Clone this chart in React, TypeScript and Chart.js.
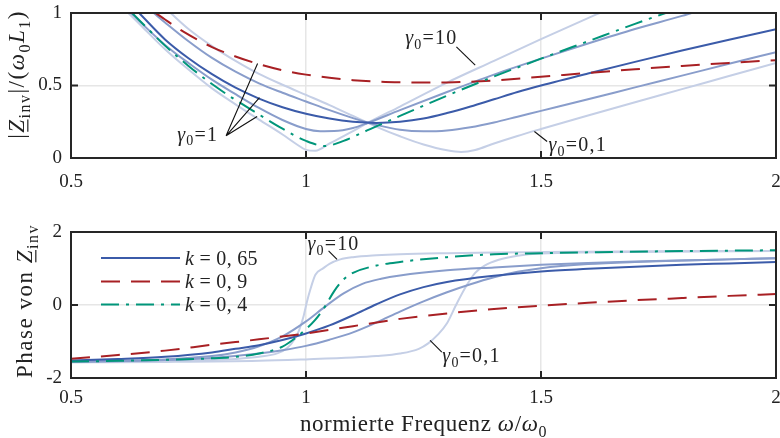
import React, { useEffect, useRef } from 'react';
import { Chart, registerables } from 'chart.js';

Chart.register(...registerables);

// ---------- |Z_inv| / (w0 L1)  (top panel) ----------
// k = 0,65 family (gamma0 = 0,1 / 0,3 / 1 / 3 / 10)
const magX_g01 = [0.712, 0.75, 0.8, 0.85, 0.9, 0.95, 1.0, 1.05, 1.1, 1.13, 1.15, 1.2, 1.25, 1.3, 1.33, 1.36, 1.4, 1.45, 1.5, 1.6, 1.7, 1.8, 1.9, 2.0];
const magY_g01 = [1.0, 0.89, 0.772, 0.67, 0.58, 0.505, 0.435, 0.365, 0.29, 0.245, 0.215, 0.15, 0.093, 0.053, 0.042, 0.055, 0.1, 0.152, 0.2, 0.293, 0.385, 0.475, 0.565, 0.655];

const magX_g03 = [0.676, 0.7, 0.75, 0.8, 0.85, 0.9, 0.95, 1.0, 1.05, 1.1, 1.13, 1.15, 1.2, 1.25, 1.3, 1.35, 1.4, 1.45, 1.5, 1.6, 1.7, 1.8, 1.9, 2.0];
const magY_g03 = [1.0, 0.935, 0.805, 0.69, 0.595, 0.515, 0.45, 0.39, 0.33, 0.275, 0.245, 0.228, 0.195, 0.184, 0.19, 0.212, 0.245, 0.285, 0.325, 0.405, 0.487, 0.568, 0.65, 0.73];

const magX_g1 = [0.645, 0.7, 0.75, 0.8, 0.85, 0.9, 0.95, 1.0, 1.05, 1.1, 1.15, 1.2, 1.25, 1.3, 1.35, 1.4, 1.45, 1.5, 1.6, 1.7, 1.8, 1.9, 2.0];
const magY_g1 = [1.0, 0.818, 0.688, 0.578, 0.485, 0.41, 0.35, 0.305, 0.272, 0.25, 0.242, 0.25, 0.272, 0.31, 0.355, 0.405, 0.455, 0.5, 0.583, 0.663, 0.741, 0.816, 0.888];

const magX_g3 = [0.628, 0.65, 0.7, 0.75, 0.8, 0.85, 0.9, 0.95, 1.0, 1.03, 1.06, 1.1, 1.13, 1.2, 1.3, 1.4, 1.5, 1.6, 1.7, 1.8, 1.82];
const magY_g3 = [1.0, 0.93, 0.78, 0.655, 0.54, 0.44, 0.345, 0.262, 0.2, 0.185, 0.186, 0.207, 0.24, 0.33, 0.455, 0.575, 0.685, 0.79, 0.89, 0.98, 1.0];

const magX_g10 = [0.622, 0.65, 0.7, 0.75, 0.8, 0.85, 0.9, 0.95, 0.98, 1.0, 1.02, 1.05, 1.1, 1.13, 1.2, 1.3, 1.4, 1.5, 1.6, 1.625];
const magY_g10 = [1.0, 0.91, 0.75, 0.61, 0.48, 0.37, 0.265, 0.162, 0.095, 0.056, 0.05, 0.1, 0.185, 0.24, 0.355, 0.52, 0.67, 0.82, 0.965, 1.0];

// k = 0,9 and k = 0,4 (gamma0 = 1)
const magX_k09 = [0.68, 0.7, 0.74, 0.8, 0.85, 0.9, 0.95, 1.0, 1.05, 1.1, 1.15, 1.2, 1.25, 1.3, 1.35, 1.4, 1.5, 1.6, 1.7, 1.8, 1.9, 2.0];
const magY_k09 = [1.0, 0.955, 0.87, 0.765, 0.7, 0.647, 0.605, 0.575, 0.553, 0.537, 0.527, 0.522, 0.52, 0.521, 0.526, 0.535, 0.56, 0.587, 0.612, 0.635, 0.656, 0.675];

const magX_k04 = [0.63, 0.65, 0.7, 0.75, 0.8, 0.85, 0.9, 0.95, 1.0, 1.04, 1.08, 1.13, 1.2, 1.3, 1.4, 1.5, 1.6, 1.7, 1.765];
const magY_k04 = [1.0, 0.935, 0.775, 0.635, 0.51, 0.4, 0.3, 0.202, 0.118, 0.083, 0.118, 0.19, 0.29, 0.43, 0.562, 0.685, 0.805, 0.925, 1.0];

// ---------- Phase von Z_inv (bottom panel) ----------
const phX_g01 = [0.5, 0.7, 0.9, 1.0, 1.1, 1.15, 1.2, 1.24, 1.26, 1.28, 1.3, 1.32, 1.34, 1.36, 1.38, 1.41, 1.45, 1.5, 1.75, 2.0];
const phY_g01 = [-1.57, -1.56, -1.53, -1.49, -1.44, -1.4, -1.33, -1.2, -1.05, -0.82, -0.5, 0.02, 0.5, 0.88, 1.08, 1.24, 1.35, 1.41, 1.46, 1.48];

const phX_g03 = [0.5, 0.6, 0.7, 0.8, 0.9, 0.95, 1.0, 1.05, 1.1, 1.15, 1.2, 1.25, 1.3, 1.35, 1.4, 1.45, 1.5, 1.6, 1.7, 1.8, 1.9, 2.0];
const phY_g03 = [-1.56, -1.54, -1.51, -1.45, -1.33, -1.24, -1.12, -0.95, -0.75, -0.48, -0.18, 0.1, 0.35, 0.57, 0.76, 0.91, 1.01, 1.12, 1.18, 1.22, 1.25, 1.28];

const phX_g1 = [0.5, 0.6, 0.7, 0.8, 0.85, 0.9, 0.95, 1.0, 1.05, 1.1, 1.15, 1.2, 1.25, 1.3, 1.4, 1.5, 1.6, 1.7, 1.8, 1.9, 2.0];
const phY_g1 = [-1.52, -1.48, -1.42, -1.3, -1.2, -1.1, -0.96, -0.78, -0.56, -0.28, 0.02, 0.29, 0.49, 0.63, 0.8, 0.92, 0.99, 1.05, 1.1, 1.14, 1.18];

const phX_g3 = [0.5, 0.6, 0.7, 0.8, 0.85, 0.9, 0.95, 1.0, 1.04, 1.08, 1.12, 1.16, 1.2, 1.3, 1.4, 1.5, 1.6, 1.7, 1.8, 1.9, 2.0];
const phY_g3 = [-1.55, -1.53, -1.49, -1.4, -1.3, -1.13, -0.86, -0.45, -0.05, 0.32, 0.58, 0.72, 0.81, 0.95, 1.03, 1.1, 1.15, 1.19, 1.22, 1.25, 1.28];

const phX_g10 = [0.5, 0.6, 0.7, 0.8, 0.85, 0.9, 0.94, 0.96, 0.975, 0.985, 0.995, 1.002, 1.01, 1.02, 1.037, 1.05, 1.073, 1.1, 1.15, 1.2, 1.3, 1.4, 1.5, 1.75, 2.0];
const phY_g10 = [-1.57, -1.555, -1.54, -1.51, -1.48, -1.42, -1.32, -1.18, -0.95, -0.7, -0.3, 0.09, 0.46, 0.83, 1.01, 1.13, 1.25, 1.31, 1.36, 1.39, 1.42, 1.44, 1.45, 1.47, 1.48];

const phX_k09 = [0.5, 0.6, 0.7, 0.8, 0.9, 1.0, 1.1, 1.2, 1.3, 1.4, 1.5, 1.6, 1.7, 1.8, 1.9, 2.0];
const phY_k09 = [-1.47, -1.37, -1.25, -1.09, -0.94, -0.78, -0.58, -0.38, -0.23, -0.11, -0.02, 0.06, 0.13, 0.19, 0.25, 0.3];

const phX_k04 = [0.5, 0.6, 0.7, 0.8, 0.85, 0.9, 0.95, 0.98, 1.0, 1.02, 1.04, 1.06, 1.08, 1.1, 1.15, 1.2, 1.3, 1.4, 1.5, 1.75, 2.0];
const phY_k04 = [-1.55, -1.53, -1.5, -1.46, -1.42, -1.33, -1.14, -0.88, -0.66, -0.4, -0.05, 0.38, 0.7, 0.88, 1.08, 1.18, 1.31, 1.39, 1.42, 1.47, 1.5];

// ---------- axes / labels ----------
const X_MIN = 0.5, X_MAX = 2, X_STEP = 0.5;
const X_INNER_TICKS = [1, 1.5];
const MAG_MIN = 0, MAG_MAX = 1, MAG_STEP = 0.5, MAG_INNER = [0.5];
const PH_MIN = -2, PH_MAX = 2, PH_STEP = 2, PH_INNER = [0];
const LEGEND_LABELS = ['0, 65', '0, 9', '0, 4'];
const X_TITLE = 'normierte Frequenz ';

// annotation anchors (data coordinates)
const TOP_NOTES = [
  { txt: '=1', tx: 0.726, ty: 0.12, from: [0.83, 0.153], to: [[0.897, 0.652], [0.901, 0.416], [0.896, 0.286]] },
  { txt: '=10', tx: 1.211, ty: 0.783, from: [1.32, 0.766], to: [[1.36, 0.64]] },
  { txt: '=0,1', tx: 1.516, ty: 0.045, from: [1.486, 0.183], to: [[1.513, 0.114]] },
];
const BOT_NOTES = [
  { txt: '=10', tx: 1.003, ty: 1.5, from: [1.048, 1.486], to: [[1.066, 1.25]] },
  { txt: '=0,1', tx: 1.29, ty: -1.57, from: [1.264, -0.97], to: [[1.289, -1.29]] },
];

// ---------- styles ----------
const C_DARK = 'rgb(59,91,169)';
const C_MED = 'rgb(137,157,203)';
const C_LIGHT = 'rgb(197,207,230)';
const C_RED = 'rgb(168,32,36)';
const C_GREEN = 'rgb(0,150,122)';
const DASH_RED = [19, 11];
const DASH_GREEN = [18, 7, 3, 7];
const SERIF = '"Liberation Serif", "Times New Roman", "DejaVu Serif", serif';
const TXT = '#222';
const FRAME = '#262626';
const GRID = '#e6e6e6';

type Part = { t: string; it?: boolean; sub?: boolean; ul?: boolean };

function zip(xs: number[], ys: number[]) {
  return xs.map((x, i) => ({ x, y: ys[i] }));
}

function line(label: string, xs: number[], ys: number[], color: string, dash: number[], order: number, width = 2) {
  return {
    label,
    data: zip(xs, ys),
    borderColor: color,
    backgroundColor: color,
    borderWidth: width,
    borderDash: dash,
    pointRadius: 0,
    pointHoverRadius: 0,
    fill: false,
    cubicInterpolationMode: 'monotone' as const,
    order,
  };
}

function partFont(p: Part, size: number) {
  const s = p.sub ? Math.round(size * 0.7) : size;
  return `${p.it ? 'italic ' : ''}${s}px ${SERIF}`;
}

function drawRich(ctx: CanvasRenderingContext2D, parts: Part[], x: number, y: number, size: number, align: 'left' | 'center' | 'right', spacing = 0) {
  ctx.save();
  (ctx as any).letterSpacing = `${spacing}px`;
  let w = 0;
  const widths: number[] = [];
  for (const p of parts) {
    ctx.font = partFont(p, size);
    const pw = ctx.measureText(p.t).width;
    widths.push(pw);
    w += pw;
  }
  let cx = align === 'left' ? x : align === 'center' ? x - w / 2 : x - w;
  ctx.fillStyle = TXT;
  ctx.textAlign = 'left';
  ctx.textBaseline = 'alphabetic';
  parts.forEach((p, i) => {
    ctx.font = partFont(p, size);
    const dy = p.sub ? size * 0.24 : 0;
    ctx.fillText(p.t, cx, y + dy);
    if (p.ul) ctx.fillRect(cx + 1, y + size * 0.14, widths[i] - 2, 1.2);
    cx += widths[i];
  });
  ctx.restore();
}

function gammaParts(rest: string): Part[] {
  return [{ t: 'γ', it: true }, { t: '0', sub: true }, { t: rest }];
}

function makeFramePlugin(kind: 'top' | 'bottom') {
  return {
    id: 'frame-' + kind,
    afterDraw(chart: any) {
      const { ctx, chartArea: ca, scales } = chart;
      const xs = scales.x, ys = scales.y;
      ctx.save();
      // frame
      ctx.strokeStyle = FRAME;
      ctx.lineWidth = 2;
      ctx.strokeRect(ca.left, ca.top, ca.right - ca.left, ca.bottom - ca.top);
      // inward ticks
      ctx.beginPath();
      for (const v of X_INNER_TICKS) {
        const px = xs.getPixelForValue(v);
        ctx.moveTo(px, ca.top); ctx.lineTo(px, ca.top + 7);
        ctx.moveTo(px, ca.bottom); ctx.lineTo(px, ca.bottom - 7);
      }
      for (const v of kind === 'top' ? MAG_INNER : PH_INNER) {
        const py = ys.getPixelForValue(v);
        ctx.moveTo(ca.left, py); ctx.lineTo(ca.left + 7, py);
        ctx.moveTo(ca.right, py); ctx.lineTo(ca.right - 7, py);
      }
      ctx.stroke();

      // annotations
      const notes = kind === 'top' ? TOP_NOTES : BOT_NOTES;
      ctx.strokeStyle = '#111';
      ctx.lineWidth = 1.1;
      for (const n of notes) {
        ctx.beginPath();
        for (const t of n.to) {
          ctx.moveTo(xs.getPixelForValue(n.from[0]), ys.getPixelForValue(n.from[1]));
          ctx.lineTo(xs.getPixelForValue(t[0]), ys.getPixelForValue(t[1]));
        }
        ctx.stroke();
        drawRich(ctx, gammaParts(n.txt), xs.getPixelForValue(n.tx), ys.getPixelForValue(n.ty), 20, 'left', 1.2);
      }

      // axis titles
      if (kind === 'top') {
        ctx.save();
        ctx.translate(24, (ca.top + ca.bottom) / 2 - 11);
        ctx.rotate(-Math.PI / 2);
        drawRich(ctx, [
          { t: '|' }, { t: 'Z', it: true, ul: true }, { t: 'inv', sub: true }, { t: '|/(' },
          { t: 'ω', it: true }, { t: '0', sub: true }, { t: 'L', it: true }, { t: '1', sub: true }, { t: ')' },
        ], 0, 0, 23, 'center', 1.5);
        ctx.restore();
      } else {
        ctx.save();
        ctx.translate(32, (ca.top + ca.bottom) / 2 - 4);
        ctx.rotate(-Math.PI / 2);
        drawRich(ctx, [{ t: 'Phase von ' }, { t: 'Z', it: true, ul: true }, { t: 'inv', sub: true }], 0, 0, 23, 'center', 1.5);
        ctx.restore();
        // x title
        drawRich(ctx, [{ t: X_TITLE }, { t: 'ω', it: true }, { t: '/' }, { t: 'ω', it: true }, { t: '0', sub: true }],
          (ca.left + ca.right) / 2, 231, 23, 'center', 0.6);

        // legend
        const ds = chart.data.datasets.slice(0, 3);
        const lx0 = ca.left + 30, lx1 = ca.left + 109, tx = ca.left + 114;
        const rows = [26, 49.4, 72.4];
        ds.forEach((d: any, i: number) => {
          const yy = ca.top + rows[i];
          ctx.save();
          ctx.strokeStyle = d.borderColor;
          ctx.lineWidth = d.borderWidth;
          ctx.setLineDash(d.borderDash || []);
          ctx.beginPath();
          ctx.moveTo(lx0, yy); ctx.lineTo(lx1, yy);
          ctx.stroke();
          ctx.restore();
          drawRich(ctx, [{ t: 'k', it: true }, { t: ' = ' + LEGEND_LABELS[i] }], tx, yy + 7, 20, 'left', 0.3);
        });
      }
      ctx.restore();
    },
  };
}

function gridColor(inner: number[]) {
  return (c: any) => (c.tick && inner.includes(c.tick.value) ? GRID : 'rgba(0,0,0,0)');
}

function makeConfig(kind: 'top' | 'bottom'): any {
  const top = kind === 'top';
  const datasets = top
    ? [
        line('k = 0,4', magX_k04, magY_k04, C_GREEN, DASH_GREEN, 0),
        line('k = 0,9', magX_k09, magY_k09, C_RED, DASH_RED, 1),
        line('k = 0,65 (γ0 = 1)', magX_g1, magY_g1, C_DARK, [], 2),
        line('γ0 = 0,3', magX_g03, magY_g03, C_MED, [], 3),
        line('γ0 = 3', magX_g3, magY_g3, C_MED, [], 3),
        line('γ0 = 0,1', magX_g01, magY_g01, C_LIGHT, [], 4),
        line('γ0 = 10', magX_g10, magY_g10, C_LIGHT, [], 4),
      ]
    : [
        line('k = 0,65', phX_g1, phY_g1, C_DARK, [], 2),
        line('k = 0,9', phX_k09, phY_k09, C_RED, DASH_RED, 1),
        line('k = 0,4', phX_k04, phY_k04, C_GREEN, DASH_GREEN, 0),
        line('γ0 = 0,3', phX_g03, phY_g03, C_MED, [], 3),
        line('γ0 = 3', phX_g3, phY_g3, C_MED, [], 3),
        line('γ0 = 0,1', phX_g01, phY_g01, C_LIGHT, [], 4),
        line('γ0 = 10', phX_g10, phY_g10, C_LIGHT, [], 4),
      ];
  const canvasH = top ? 200 : 238;
  const areaBottom = top ? 158 : 178;
  return {
    type: 'line',
    data: { datasets },
    options: {
      responsive: false,
      animation: false,
      events: [],
      layout: { padding: { top: top ? 13 : 32, right: 4, left: 0, bottom: 0 } },
      plugins: { legend: { display: false }, tooltip: { enabled: false }, title: { display: false } },
      scales: {
        x: {
          type: 'linear',
          min: X_MIN,
          max: X_MAX,
          afterFit: (s: any) => {
            s.height = canvasH - areaBottom;
            s.paddingLeft = 0;
            s.paddingRight = 0;
          },
          grid: { color: gridColor(X_INNER_TICKS), lineWidth: 1.5, drawTicks: false },
          border: { display: false },
          ticks: {
            stepSize: X_STEP,
            padding: top ? 13 : 9,
            autoSkip: false,
            maxRotation: 0,
            color: TXT,
            font: { family: SERIF, size: 19 },
            callback: (v: number) => String(v),
          },
        },
        y: {
          type: 'linear',
          min: top ? MAG_MIN : PH_MIN,
          max: top ? MAG_MAX : PH_MAX,
          afterFit: (s: any) => {
            s.width = 71;
            s.paddingTop = 0;
            s.paddingBottom = 0;
          },
          grid: { color: gridColor(top ? MAG_INNER : PH_INNER), lineWidth: 1.5, drawTicks: false },
          border: { display: false },
          ticks: {
            stepSize: top ? MAG_STEP : PH_STEP,
            padding: 9,
            color: TXT,
            font: { family: SERIF, size: 19 },
            callback: (v: number) => String(v),
          },
        },
      },
    },
    plugins: [makeFramePlugin(kind)],
  };
}

export default function App() {
  const topRef = useRef<HTMLCanvasElement>(null);
  const botRef = useRef<HTMLCanvasElement>(null);
  useEffect(() => {
    const c1 = new Chart(topRef.current as HTMLCanvasElement, makeConfig('top'));
    const c2 = new Chart(botRef.current as HTMLCanvasElement, makeConfig('bottom'));
    return () => {
      c1.destroy();
      c2.destroy();
    };
  }, []);
  return (
    <div style={{ position: 'fixed', left: 0, top: 0, width: 780, height: 438, background: '#fff' }}>
      <canvas ref={topRef} width={780} height={200} style={{ position: 'absolute', left: 0, top: 0 }} />
      <canvas ref={botRef} width={780} height={238} style={{ position: 'absolute', left: 0, top: 200 }} />
    </div>
  );
}
